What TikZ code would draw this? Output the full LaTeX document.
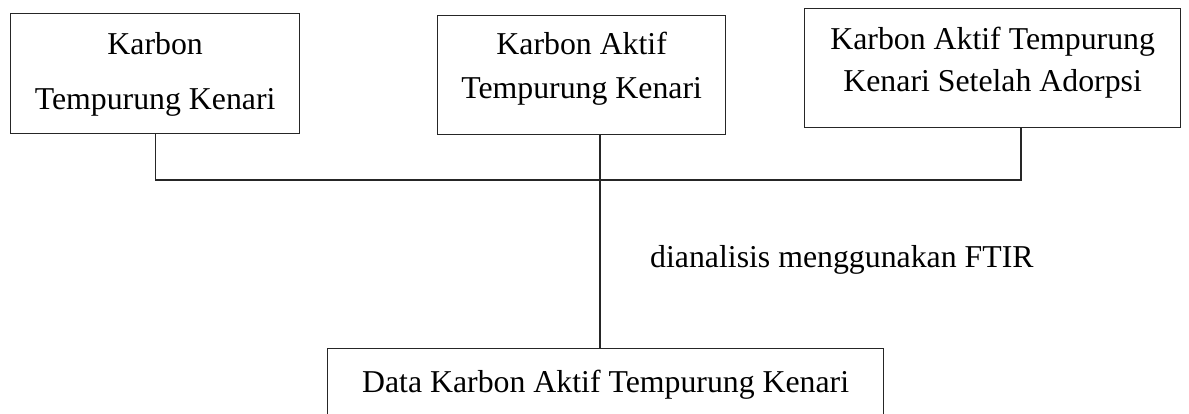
\documentclass[tikz,border=0pt]{standalone}
\usepackage{fontspec}
\setmainfont{Liberation Serif}
\usetikzlibrary{calc}
\begin{document}
\begin{tikzpicture}[x=1pt,y=-1pt,
  box/.style={draw=black!85, line width=1.3pt, rectangle, inner sep=0pt, anchor=north west},
  label/.style={inner sep=0pt, anchor=base, font=\fontsize{31.8}{38}\selectfont},
  link/.style={draw=black!85, line width=1.3pt}]
\useasboundingbox (0,0) rectangle (1189,414);

% boxes (size given explicitly)
\node[box, minimum width=289pt, minimum height=120pt] (b1) at (10,13) {};
\node[box, minimum width=288pt, minimum height=119pt] (b2) at (437,15) {};
\node[box, minimum width=376pt, minimum height=119pt] (b3) at (804,8) {};
\node[box, minimum width=556pt, minimum height=100pt] (b4) at (327,348) {};

% box texts
\node[label] (t1a) at ($(b1.north)+(0,42)$) {Karbon};
\node[label] (t1b) at ($(b1.north)+(0,97)$) {Tempurung Kenari};
\node[label] (t2a) at ($(b2.north)+(0,40)$) {Karbon Aktif};
\node[label] (t2b) at ($(b2.north)+(0,84)$) {Tempurung Kenari};
\node[label] (t3a) at ($(b3.north)+(0,42)$) {Karbon Aktif Tempurung};
\node[label] (t3b) at ($(b3.north)+(0,84)$) {Kenari Setelah Adorpsi};
\node[label] (t4) at ($(b4.north)+(0,44)$) {Data Karbon Aktif Tempurung Kenari};

% edge label
\node[label, anchor=base west] (ftir) at (650,267) {dianalisis menggunakan FTIR};

% joining bus
\coordinate (hub) at (600,180);
\coordinate (busR) at (1021,180);
\draw[link] (b1.south) |- (hub) -- (busR) -- (busR |- b3.south);
\draw[link] (b2.south -| hub) -- (b4.north -| hub);
\end{tikzpicture}
\end{document}
